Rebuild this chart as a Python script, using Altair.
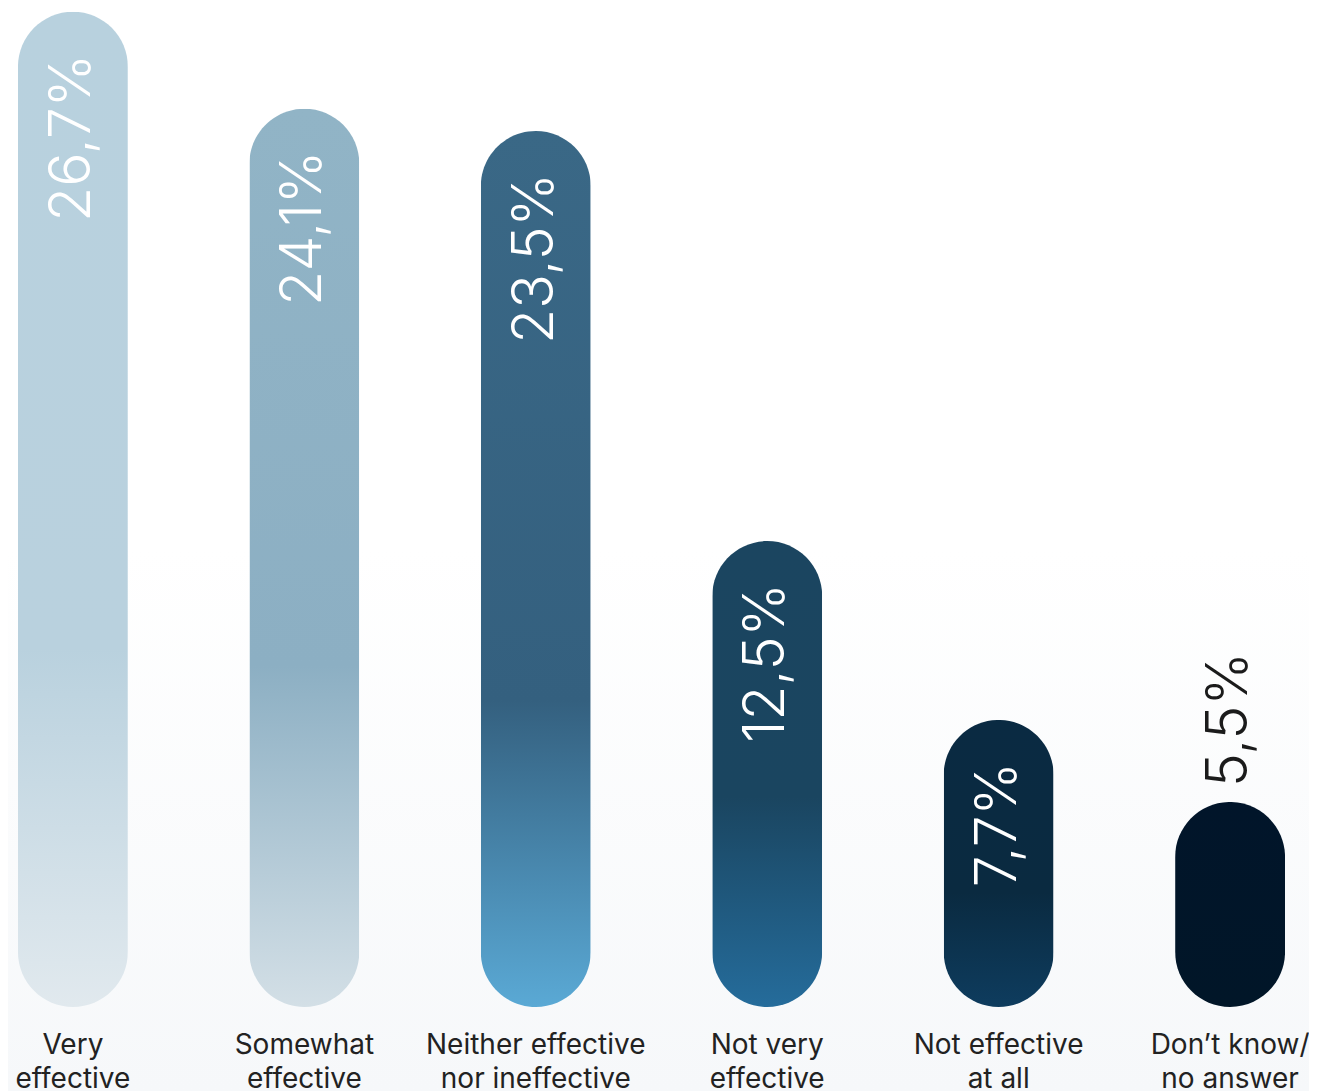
import altair as alt
import pandas as pd

categories = [
    "Very|effective",
    "Somewhat|effective",
    "Neither effective|nor ineffective",
    "Not very|effective",
    "Not effective|at all",
    "Don’t know/|no answer",
]
values = [26.7, 24.1, 23.5, 12.5, 7.7, 5.5]

# gradient stops per bar (top -> bottom)
bar_stops = [
    [(0.0, "#b8d1de"), (0.64, "#b9d1de"), (1.0, "#e1e9ee")],
    [(0.0, "#91b4c6"), (0.62, "#8cafc3"), (1.0, "#d3dfe6")],
    [(0.0, "#3a6886"), (0.65, "#34607f"), (1.0, "#5aa9d5")],
    [(0.0, "#1b4560"), (0.55, "#1a4560"), (1.0, "#256c9b")],
    [(0.0, "#0a2a42"), (0.6, "#0a2a40"), (1.0, "#0e3c5e")],
    [(0.0, "#01152a"), (1.0, "#011628")],
]

df = pd.DataFrame({"category": categories, "value": values})

W, H = 1287, 999
PAD_R, PAD_B = 14, 84

x_enc = alt.X(
    "category:N",
    sort=categories,
    scale=alt.Scale(paddingInner=0.525, paddingOuter=0.043),
    axis=alt.Axis(
        title=None,
        labelAngle=0,
        labelFontSize=28,
        labelFont="Inter",
        labelColor="#222222",
        labelPadding=24,
        labelLineHeight=34,
        labelBaseline="top",
        labelLimit=500,
        ticks=False,
        tickSize=0,
        domain=False,
        zindex=2,
        labelExpr="split(datum.label, '|')",
    ),
)
y_enc = alt.Y(
    "value:Q",
    scale=alt.Scale(domain=[0, 26.8], nice=False),
    axis=None,
)


def grad(stops):
    return alt.Gradient(
        gradient="linear",
        stops=[alt.GradientStop(offset=o, color=c) for o, c in stops],
        x1=0, x2=0, y1=0, y2=1,
    )


bg = alt.Chart(alt.Data(values=[{"a": 1}])).mark_rect(
    color=grad([(0.0, "#ffffff"), (0.5, "#ffffff"), (1.0, "#f6f8fa")])
).encode(
    x=alt.value(0), x2=alt.value(W + PAD_R),
    y=alt.value(0), y2=alt.value(H + PAD_B),
)

layers = [bg]
base = alt.Chart(df)
for cat, stops in zip(categories, bar_stops):
    layers.append(
        base.transform_filter(alt.datum.category == cat)
        .mark_bar(cornerRadius=55, color=grad(stops))
        .encode(x=x_enc, y=y_enc)
    )

label_calc = "replace(format(datum.value, '.1f'), '.', ',') + '%'"

inside = base.transform_filter(alt.datum.value > 6).transform_calculate(
    lbl=label_calc
).mark_text(
    angle=270, align="right", baseline="middle", dx=-42,
    fontSize=57, fontWeight=300, font="Inter", color="#ffffff",
).encode(x=x_enc, y=y_enc, text="lbl:N")

outside = base.transform_filter(alt.datum.value <= 6).transform_calculate(
    lbl=label_calc
).mark_text(
    angle=270, align="left", baseline="middle", dx=15,
    fontSize=57, fontWeight=300, font="Inter", color="#1b1b1b",
).encode(x=x_enc, y=y_enc, text="lbl:N")

layers += [inside, outside]

chart = alt.layer(*layers).properties(
    width=W, height=H,
    autosize=alt.AutoSizeParams(type="none"),
    padding={"left": 0, "top": 0, "right": PAD_R, "bottom": PAD_B},
    background="#ffffff",
).configure_view(stroke=None)

chart.save("out.html", embed_options={"renderer": "svg", "actions": False})
